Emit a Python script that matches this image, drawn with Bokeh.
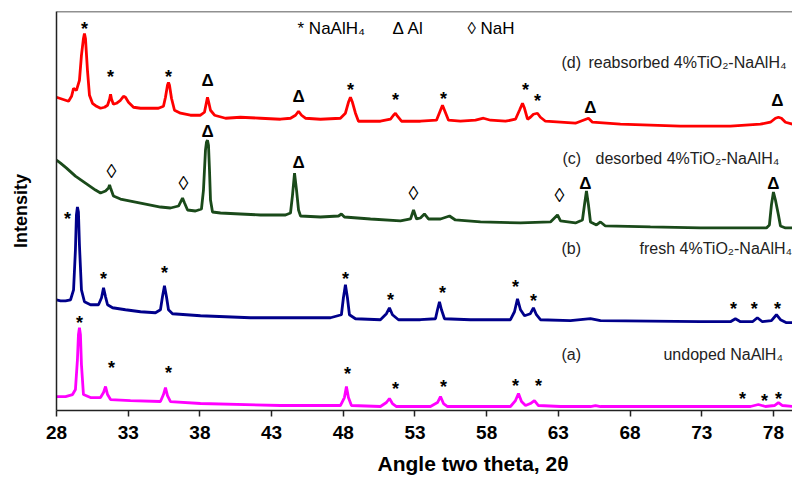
from bokeh.plotting import figure
from bokeh.models import Range1d, FixedTicker, Span, Title, ColumnDataSource
from bokeh.core.properties import value
from bokeh.embed import file_html
from bokeh.resources import INLINE

FONT = "Liberation Sans"

# ---------------- data (2theta in degrees, intensity in arbitrary units) ----------------
x_ticks = [28, 33, 38, 43, 48, 53, 58, 63, 68, 73, 78]

d_theta = [28.00, 28.42, 28.84, 29.05, 29.19, 29.39, 29.60, 29.74, 29.88, 29.95, 30.02, 30.16, 30.30,
           30.51, 30.79, 31.07, 31.35, 31.56, 31.70, 31.77, 31.84, 31.97, 32.18, 32.46, 32.67, 32.81,
           33.02, 33.37, 33.86, 34.56, 35.11, 35.46, 35.60, 35.74, 35.81, 35.88, 36.02, 36.23, 36.65,
           37.34, 38.04, 38.32, 38.46, 38.53, 38.60, 38.74, 39.02, 39.79, 40.83, 42.23, 43.62, 44.32,
           44.67, 44.88, 45.09, 45.36, 46.41, 47.80, 48.15, 48.36, 48.50, 48.64, 48.85, 49.06, 50.59,
           51.29, 51.50, 51.64, 51.78, 52.06, 53.38, 54.50, 54.78, 54.92, 55.06, 55.34, 56.17, 57.22,
           57.78, 58.27, 59.31, 60.01, 60.29, 60.50, 60.64, 60.85, 61.05, 61.26, 61.54, 61.75, 62.10,
           63.15, 64.19, 65.10, 65.38, 67.33, 69.42, 71.51, 75.00, 77.09, 77.79, 78.14, 78.35, 78.56,
           78.84, 79.33]
d_int = [314, 312, 310, 315, 323, 321, 331, 356, 373, 378, 373, 341, 316,
         308, 305, 303, 304, 306, 312, 317, 312, 307, 308, 311, 315, 314,
         309, 304, 303, 303, 303, 305, 314, 326, 329, 326, 313, 301, 298,
         296, 296, 299, 309, 314, 310, 301, 296, 293, 294, 293, 292, 293,
         296, 300, 296, 293, 292, 293, 298, 309, 314, 309, 298, 290, 290,
         292, 296, 298, 295, 290, 290, 291, 301, 306, 301, 291, 290, 291,
         293, 291, 290, 292, 301, 308, 303, 292, 294, 297, 298, 294, 290,
         289, 288, 293, 289, 287, 286, 285, 285, 287, 289, 293, 294, 293,
         289, 287]

c_theta = [28.00, 28.28, 28.70, 29.32, 30.02, 30.72, 31.07, 31.42, 31.63, 31.70, 31.77, 31.97, 32.46,
           33.16, 33.86, 34.56, 35.25, 35.95, 36.51, 36.72, 36.79, 36.93, 37.14, 37.69, 38.11, 38.25,
           38.39, 38.46, 38.53, 38.60, 38.67, 38.74, 38.88, 39.44, 40.83, 42.23, 43.97, 44.32, 44.46,
           44.60, 44.74, 44.88, 45.02, 46.41, 47.67, 47.87, 48.08, 49.90, 51.99, 52.69, 52.90, 53.11,
           53.38, 53.66, 53.94, 54.78, 55.41, 55.82, 57.57, 60.36, 62.45, 62.73, 62.94, 63.15, 64.19,
           64.68, 64.82, 64.96, 65.10, 65.24, 65.66, 65.94, 66.28, 69.42, 72.91, 76.40, 77.51, 77.72,
           77.86, 78.00, 78.14, 78.21, 78.35, 78.49, 78.84, 79.33]
c_int = [251, 248, 243, 235, 228, 221, 218, 220, 223, 226, 223, 215, 212,
         210, 208, 206, 204, 203, 205, 211, 213, 208, 201, 200, 202, 221,
         261, 269, 271, 266, 241, 211, 199, 198, 197, 196, 196, 198, 216,
         238, 221, 201, 195, 194, 195, 197, 194, 192, 190, 192, 201, 192,
         193, 197, 192, 192, 195, 191, 189, 188, 189, 193, 196, 190, 188,
         191, 206, 220, 206, 189, 186, 189, 185, 184, 183, 183, 183, 186,
         206, 219, 211, 206, 196, 185, 183, 183]

b_theta = [28.00, 28.28, 28.63, 28.98, 29.19, 29.32, 29.39, 29.46, 29.53, 29.60, 29.74, 29.95, 30.37,
           30.93, 31.14, 31.28, 31.42, 31.56, 31.91, 32.81, 33.86, 34.90, 35.25, 35.39, 35.53, 35.67,
           35.81, 36.09, 38.04, 41.53, 45.02, 47.11, 47.87, 48.01, 48.15, 48.29, 48.43, 48.85, 50.59,
           51.01, 51.22, 51.43, 51.85, 53.38, 54.43, 54.57, 54.71, 54.85, 55.06, 56.87, 59.66, 59.94,
           60.15, 60.36, 60.64, 61.05, 61.26, 61.47, 61.75, 63.84, 65.24, 65.94, 72.91, 75.00, 75.35,
           75.70, 76.54, 76.88, 77.23, 77.86, 78.21, 78.49, 78.91, 79.33]
b_int = [111, 110, 110, 111, 121, 161, 196, 204, 199, 166, 121, 109, 106,
         106, 113, 123, 114, 106, 103, 101, 99, 98, 101, 114, 125, 114,
         101, 97, 95, 93, 93, 93, 96, 113, 126, 113, 96, 92, 91,
         97, 103, 96, 91, 91, 92, 101, 109, 101, 92, 91, 91, 99,
         112, 101, 95, 97, 103, 96, 91, 90, 92, 90, 89, 89, 92,
         89, 89, 93, 89, 90, 96, 91, 88, 88]

a_theta = [28.00, 28.63, 29.12, 29.32, 29.46, 29.53, 29.60, 29.67, 29.74, 29.88, 30.37, 31.07, 31.28,
           31.42, 31.56, 31.77, 33.16, 35.25, 35.46, 35.60, 35.74, 35.95, 38.04, 43.62, 47.80, 48.08,
           48.22, 48.36, 48.57, 50.59, 51.01, 51.22, 51.43, 51.71, 54.08, 54.57, 54.78, 54.99, 55.27,
           59.66, 60.01, 60.22, 60.43, 60.71, 61.05, 61.33, 61.61, 63.15, 65.24, 65.59, 65.94, 76.40,
           76.95, 77.44, 78.07, 78.35, 78.63, 79.33]
a_int = [14, 14, 16, 21, 51, 76, 83, 76, 46, 16, 13, 13, 18,
         24, 16, 11, 10, 9, 16, 23, 15, 9, 7, 5, 5, 13,
         24, 13, 5, 4, 8, 12, 7, 4, 4, 8, 14, 7, 4,
         4, 10, 17, 9, 5, 7, 10, 5, 4, 4, 5, 4, 4,
         6, 4, 5, 8, 5, 4]

# phase markers above the peaks (2theta, intensity, symbol)
d_mark_x = [29.95, 31.77, 35.81, 38.53, 44.88, 48.50, 51.64, 54.99, 60.71, 61.54, 65.24, 78.28]
d_mark_y = [386, 338, 338, 331, 315, 325, 315, 316, 325, 314, 304, 311]
d_mark = ["*", "*", "*", "Δ", "Δ", "*", "*", "*", "*", "*", "Δ", "Δ"]

c_mark_x = [31.84, 36.86, 38.53, 44.88, 52.90, 63.08, 64.89, 78.00]
c_mark_y = [240, 228, 280, 249, 218, 216, 228, 228]
c_mark = ["◊", "◊", "Δ", "Δ", "◊", "◊", "Δ", "Δ"]

b_mark_x = [28.77, 31.28, 35.53, 48.15, 51.29, 54.92, 60.01, 61.26, 75.21, 76.67, 78.28]
b_mark_y = [196, 136, 142, 136, 115, 122, 128, 114, 106, 106, 106]
b_mark = ["*"] * 11

a_mark_x = [29.60, 31.84, 35.81, 48.29, 51.64, 54.99, 60.01, 61.61, 75.84, 77.37, 78.35]
a_mark_y = [92, 47, 42, 41, 26, 28, 29, 29, 16, 14, 16]
a_mark = ["*"] * 11

series_tags = ["(d)", "(c)", "(b)", "(a)"]
series_names = ["reabsorbed 4%TiO₂-NaAlH₄", "desorbed 4%TiO₂-NaAlH₄",
                "fresh 4%TiO₂-NaAlH₄", "undoped NaAlH₄"]
legend_texts = ["* NaAlH₄", "Δ Al", "◊ NaH"]

# ---------------- figure ----------------
p = figure(width=792, height=482, output_backend="svg", toolbar_location=None,
           x_range=Range1d(28, 79.33), y_range=Range1d(0, 400),
           min_border_left=56, min_border_right=0, min_border_top=11, min_border_bottom=71)
p.background_fill_color = "white"
p.border_fill_color = "white"
p.outline_line_color = None
p.xgrid.visible = False
p.ygrid.visible = False

p.xaxis.ticker = FixedTicker(ticks=x_ticks)
p.xaxis.major_tick_out = 6
p.xaxis.major_tick_in = 0
p.xaxis.minor_tick_line_color = None
p.xaxis.axis_line_width = 1.5
p.xaxis.axis_line_color = "#222222"
p.xaxis.major_tick_line_color = "#222222"
p.xaxis.major_tick_line_width = 1.5
p.xaxis.major_label_text_font = FONT
p.xaxis.major_label_text_font_style = "bold"
p.xaxis.major_label_text_font_size = "19px"
p.xaxis.major_label_text_color = "black"
p.xaxis.major_label_standoff = 9

p.yaxis.ticker = FixedTicker(ticks=[])
p.yaxis.minor_tick_line_color = None
p.yaxis.axis_line_width = 1.5
p.yaxis.axis_line_color = "#222222"
p.yaxis.axis_label = "Intensity"
p.yaxis.axis_label_text_font = FONT
p.yaxis.axis_label_text_font_style = "bold"
p.yaxis.axis_label_text_font_size = "18px"
p.yaxis.axis_label_text_color = "black"
p.yaxis.axis_label_standoff = 26

p.add_layout(Span(location=400, dimension="width", line_color="#222222", line_width=1.5))

# x axis title (placed under the axis, shifted right as in the reference)
p.add_layout(Title(text="Angle two theta, 2θ", align="left", offset=321, text_font=FONT,
                   text_font_size="21px", text_font_style="bold", text_color="black",
                   standoff=16), "below")

# curves
p.line(a_theta, a_int, line_color="#ff00ff", line_width=2.8)
p.line(b_theta, b_int, line_color="#00008b", line_width=2.8)
p.line(c_theta, c_int, line_color="#1a4a1a", line_width=2.8)
p.line(d_theta, d_int, line_color="#ff0000", line_width=2.8)

# markers
all_x = d_mark_x + c_mark_x + b_mark_x + a_mark_x
all_y = d_mark_y + c_mark_y + b_mark_y + a_mark_y
all_s = d_mark + c_mark + b_mark + a_mark
styles = {"*": dict(size="18px", style="bold", off=4),
          "Δ": dict(size="17px", style="bold", off=0),
          "◊": dict(size="20px", style="normal", off=0)}
for sym, st in styles.items():
    xs = [x for x, s in zip(all_x, all_s) if s == sym]
    ys = [y for y, s in zip(all_y, all_s) if s == sym]
    src = ColumnDataSource(dict(x=xs, y=ys, t=[sym] * len(xs)))
    p.text(x="x", y="y", text="t", source=src, text_font=value(FONT),
           text_font_size=st["size"], text_font_style=st["style"], text_color="black",
           text_align="center", text_baseline="middle", y_offset=st["off"])

# legend line at top
leg_x = [44.81, 51.43, 56.66]
p.text(x=leg_x, y=[383] * 3, text=legend_texts, text_font=value(FONT), text_font_size="17px",
       text_color="black", text_align="left", text_baseline="middle")

# series labels
tag_x = [63.22, 63.29, 63.22, 63.22]
tag_y = [349, 253, 162, 56]
name_x = [65.10, 65.59, 68.66, 70.33]
p.text(x=tag_x, y=tag_y, text=series_tags, text_font=value(FONT), text_font_size="16px",
       text_color="#222222", text_align="left", text_baseline="middle")
p.text(x=name_x, y=tag_y, text=series_names, text_font=value(FONT), text_font_size="16px",
       text_color="#222222", text_align="left", text_baseline="middle")

open("out.html", "w").write(file_html(p, INLINE))
